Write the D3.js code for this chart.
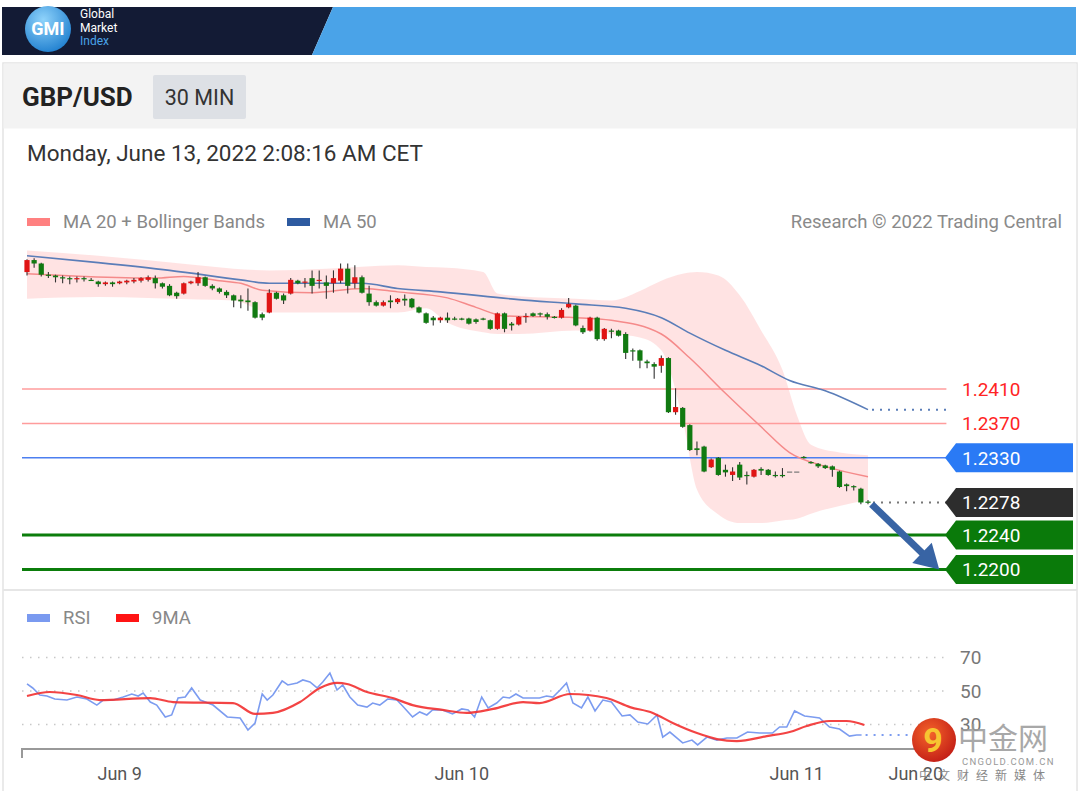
<!DOCTYPE html>
<html><head><meta charset="utf-8">
<script src="https://cdn.jsdelivr.net/npm/d3@7"></script>
<style>body{margin:0;background:#fff;}svg{display:block;font-family:Roboto,"Noto Sans",sans-serif;}</style>
</head><body><svg id="c" width="1080" height="791"></svg>
<script>
// ---------- DATA ----------
const opens=[1.2546,1.2560,1.2556,1.2543,1.2542,1.2540,1.2539,1.2538,1.2539,1.2537,1.2535,1.2532,1.2534,1.2533,1.2534,1.2535,1.2536,1.2537,1.2539,1.2533,1.2530,1.2522,1.2521,1.2533,1.2533,1.2540,1.2530,1.2527,1.2523,1.2519,1.2514,1.2513,1.2511,1.2497,1.2499,1.2522,1.2519,1.2521,1.2536,1.2534,1.2539,1.2536,1.2534,1.2533,1.2536,1.2550,1.2533,1.2540,1.2521,1.2511,1.2507,1.2513,1.2511,1.2515,1.2515,1.2505,1.2498,1.2493,1.2490,1.2493,1.2492,1.2492,1.2492,1.2491,1.2492,1.2490,1.2480,1.2498,1.2486,1.2485,1.2494,1.2498,1.2498,1.2497,1.2494,1.2493,1.2505,1.2507,1.2481,1.2478,1.2493,1.2468,1.2478,1.2478,1.2474,1.2455,1.2455,1.2442,1.2439,1.2437,1.2446,1.2383,1.2388,1.2368,1.2341,1.2343,1.2319,1.2330,1.2316,1.2310,1.2322,1.2310,1.2308,1.2317,1.2316,1.2310,1.2310,1.2314,1.2314,1.2331,1.2325,1.2323,1.2321,1.2320,1.2314,1.2299,1.2297,1.2294,1.2279];
const highs=[1.2561,1.2562,1.2557,1.2546,1.2543,1.2542,1.2541,1.2541,1.2541,1.2539,1.2536,1.2535,1.2535,1.2536,1.2537,1.2539,1.2540,1.2542,1.2542,1.2534,1.2532,1.2523,1.2534,1.2536,1.2546,1.2541,1.2532,1.2528,1.2525,1.2520,1.2519,1.2527,1.2512,1.2499,1.2526,1.2523,1.2521,1.2539,1.2537,1.2539,1.2548,1.2548,1.2542,1.2548,1.2556,1.2556,1.2554,1.2542,1.2530,1.2513,1.2513,1.2519,1.2516,1.2520,1.2516,1.2506,1.2499,1.2495,1.2494,1.2499,1.2494,1.2493,1.2493,1.2492,1.2493,1.2491,1.2499,1.2499,1.2488,1.2495,1.2498,1.2499,1.2499,1.2499,1.2495,1.2504,1.2516,1.2508,1.2484,1.2494,1.2494,1.2481,1.2480,1.2479,1.2476,1.2457,1.2456,1.2444,1.2441,1.2449,1.2447,1.2411,1.2389,1.2369,1.2349,1.2344,1.2329,1.2331,1.2322,1.2319,1.2325,1.2314,1.2317,1.2319,1.2317,1.2314,1.2318,1.2314,1.2314,1.2332,1.2326,1.2324,1.2322,1.2321,1.2315,1.2300,1.2298,1.2295,1.2281];
const lows=[1.2542,1.2551,1.2541,1.2539,1.2534,1.2533,1.2532,1.2534,1.2535,1.2536,1.2529,1.2530,1.2529,1.2532,1.2532,1.2533,1.2534,1.2535,1.2527,1.2527,1.2518,1.2515,1.2520,1.2532,1.2530,1.2529,1.2525,1.2521,1.2516,1.2505,1.2504,1.2501,1.2492,1.2490,1.2498,1.2514,1.2509,1.2520,1.2532,1.2528,1.2521,1.2527,1.2515,1.2522,1.2533,1.2521,1.2527,1.2521,1.2507,1.2506,1.2506,1.2504,1.2509,1.2507,1.2504,1.2498,1.2486,1.2484,1.2487,1.2487,1.2490,1.2490,1.2485,1.2486,1.2490,1.2479,1.2479,1.2476,1.2478,1.2484,1.2487,1.2494,1.2494,1.2491,1.2492,1.2492,1.2504,1.2483,1.2474,1.2477,1.2466,1.2466,1.2469,1.2471,1.2445,1.2443,1.2434,1.2434,1.2422,1.2429,1.2382,1.2380,1.2365,1.2338,1.2333,1.2313,1.2318,1.2309,1.2308,1.2303,1.2304,1.2299,1.2307,1.2310,1.2309,1.2307,1.2307,1.2314,1.2314,1.2329,1.2323,1.2318,1.2317,1.2308,1.2295,1.2291,1.2292,1.2276,1.2276];
const closes=[1.2560,1.2556,1.2543,1.2542,1.2540,1.2539,1.2538,1.2539,1.2538,1.2536,1.2532,1.2534,1.2532,1.2535,1.2536,1.2537,1.2539,1.2540,1.2533,1.2529,1.2519,1.2518,1.2533,1.2535,1.2540,1.2530,1.2527,1.2523,1.2519,1.2513,1.2512,1.2511,1.2493,1.2493,1.2522,1.2515,1.2513,1.2537,1.2533,1.2535,1.2530,1.2537,1.2530,1.2539,1.2550,1.2530,1.2540,1.2522,1.2511,1.2507,1.2511,1.2511,1.2515,1.2513,1.2505,1.2499,1.2487,1.2490,1.2493,1.2490,1.2491,1.2491,1.2486,1.2488,1.2491,1.2480,1.2498,1.2480,1.2484,1.2494,1.2495,1.2495,1.2497,1.2494,1.2493,1.2502,1.2509,1.2484,1.2476,1.2493,1.2468,1.2480,1.2477,1.2472,1.2452,1.2454,1.2443,1.2440,1.2436,1.2446,1.2383,1.2389,1.2366,1.2339,1.2339,1.2314,1.2328,1.2310,1.2313,1.2314,1.2307,1.2309,1.2316,1.2315,1.2310,1.2309,1.2309,1.2314,1.2314,1.2330,1.2324,1.2320,1.2318,1.2316,1.2296,1.2297,1.2296,1.2278,1.2278];

const ma20Idx=[0,8,18,22,27,30,33,40,47,52,59,63,67,77,82,89,93,98,103,107,112,118];
const ma20Val=[1.2544,1.2541,1.2539,1.2541,1.2536,1.2533,1.2525,1.2522,1.2527,1.2523,1.2516,1.2505,1.2495,1.2493,1.2490,1.2474,1.2446,1.2405,1.2366,1.2336,1.2320,1.2308];
const ma50Idx=[0,10,20,30,34,47,52,58,69,77,84,89,93,98,103,107,112,118];
const ma50Val=[1.2565,1.2557,1.2548,1.2537,1.2533,1.2533,1.2527,1.2523,1.2514,1.2509,1.2504,1.2493,1.2475,1.2455,1.2437,1.2420,1.2408,1.2386];
const bbIdx=[0,10,24,29,34,42,52,56,59,64,66,69,77,82,86,89,92,94,97,100,103,106,108,110,114,118];
const bbUpper=[1.2571,1.2565,1.2554,1.2550,1.2548,1.2550,1.2554,1.2552,1.2551,1.2546,1.2521,1.2518,1.2515,1.2513,1.2524,1.2536,1.2544,1.2546,1.2542,1.2519,1.2478,1.2432,1.2380,1.2345,1.2336,1.2333];
const bbLower=[1.2515,1.2517,1.2514,1.2513,1.2499,1.2499,1.2499,1.2504,1.2487,1.2476,1.2474,1.2474,1.2478,1.2474,1.2470,1.2455,1.2374,1.2293,1.2264,1.2254,1.2254,1.2257,1.2259,1.2265,1.2274,1.2281];

const resistances=[1.2410,1.2370];
const pivot=[1.2330];
const supports=[1.2240,1.2200];
const lastPrice=1.2278;
const arrowFrom=[118.5,1.2276], arrowTo=[128,1.2200];

const rsiT=[0,0.8,1.8,2.8,3.9,5.6,7.0,8.4,9.8,10.7,12.1,13.5,14.7,15.6,16.3,17.3,18.2,19.4,20.3,21.2,22.2,23.1,24.3,26.1,28.1,29.9,31.0,32.0,33.0,33.7,34.5,35.8,36.6,37.9,38.7,39.7,40.7,41.5,42.5,43.5,44.3,45.3,46.4,47.7,48.5,49.5,50.6,51.9,52.7,54.1,55.1,56.1,56.9,58.3,59.7,61.0,61.9,62.8,63.8,64.7,65.9,66.8,67.7,68.6,69.6,71.9,72.9,73.8,74.8,75.7,76.6,77.8,78.7,79.7,80.8,82.0,83.5,84.6,85.7,87.1,88.4,89.2,90.2,92.0,93.3,94.1,95.4,96.8,98.2,99.6,101.1,102.8,104.6,105.6,106.6,107.7,109.1,110.2,111.2,112.6,114.0,115.4,116.4,117.1];
const rsiV=[54.2,51.8,47.6,47.0,45.2,44.6,46.4,45.2,41.6,44.6,44.6,46.4,48.2,47.0,48.8,43.4,41.6,34.5,35.7,45.8,46.4,51.8,44.6,41.6,34.5,33.9,26.7,30.9,48.2,44.6,47.6,56.0,53.6,54.8,56.6,55.4,51.8,55.4,60.7,50.6,53.6,46.4,41.6,40.4,42.8,41.6,45.2,44.6,41.0,34.5,37.5,35.7,38.7,38.7,36.3,39.3,38.7,34.5,46.4,39.9,42.8,46.4,45.8,48.2,45.8,45.8,47.0,46.4,50.6,54.8,42.8,39.9,46.4,38.1,44.6,43.4,35.1,35.7,31.5,30.3,35.7,22.5,25.5,19.0,20.7,17.8,22.5,20.7,21.9,21.9,25.5,24.9,24.9,28.5,28.5,38.1,35.1,34.5,33.9,28.5,27.3,23.1,23.7,23.7];
const maT=[0,3.2,7.0,10.2,17.3,20.5,28.9,32.0,34.5,38.3,41.1,43.5,44.9,47.7,51.3,54.1,58.3,61.7,65.4,69.6,71.9,76.2,81.3,84.6,87.8,90.6,94.0,96.8,99.6,103.8,107.0,109.4,112.6,115.0,117.5];
const maV=[47.0,49.4,47.6,44.6,45.8,43.4,42.8,36.3,36.9,43.4,51.8,54.8,54.2,49.4,45.8,41.6,38.7,36.9,39.3,43.4,42.8,48.2,45.8,40.4,36.9,30.9,24.9,21.3,20.1,23.1,25.5,29.1,32.1,32.1,29.7];
const rsiLevels=[70,50,30];
const tickT=[13,61,108,124.7];
const tickLabels=["Jun 9","Jun 10","Jun 11","Jun 20"];

// ---------- SCALES ----------
const svg=d3.select('#c');
const x=d3.scaleLinear().domain([0,118]).range([27,868]);
const y=d3.scaleLinear().domain([1.2200,1.2410]).range([569.5,389]);
const yr=d3.scaleLinear().domain([30,70]).range([724.5,657.5]);
const xEnd=x(129);

// ---------- HEADER ----------
svg.append('polygon').attr('points','2,7 333,7 312,55 2,55').attr('fill','#131b35');
svg.append('polygon').attr('points','333,7 1076,7 1076,55 312,55').attr('fill','#4aa3e8');
const defs=svg.append('defs');
const lg=defs.append('radialGradient').attr('id','gmi').attr('cx','40%').attr('cy','30%').attr('r','75%');
lg.append('stop').attr('offset','0%').attr('stop-color','#8fd3fb');
lg.append('stop').attr('offset','100%').attr('stop-color','#1f7fcf');
svg.append('circle').attr('cx',48).attr('cy',29).attr('r',23).attr('fill','url(#gmi)');
svg.append('text').attr('x',48).attr('y',35).attr('text-anchor','middle').attr('fill','#fff').attr('font-weight','bold').attr('font-size',18).text('GMI');
[['Global',18,'#fff'],['Market',32,'#fff'],['Index',45,'#4aa3e8']].forEach(t=>svg.append('text').attr('x',80).attr('y',t[1]).attr('font-size',12).attr('fill',t[2]).text(t[0]));

// ---------- CARD ----------
svg.append('rect').attr('x',3).attr('y',63).attr('width',1074).attr('height',730).attr('fill','#fff').attr('stroke','#e4e4e4').attr('stroke-width',1.5);
svg.append('rect').attr('x',3.5).attr('y',63.5).attr('width',1073).attr('height',65).attr('fill','#f3f3f3');
svg.append('text').attr('x',22).attr('y',106).attr('font-size',26).attr('font-weight','bold').attr('fill','#222').text('GBP/USD');
svg.append('rect').attr('x',153).attr('y',75).attr('width',93).attr('height',44).attr('fill','#dde0e5').attr('rx',2);
svg.append('text').attr('x',199.5).attr('y',105).attr('text-anchor','middle').attr('font-size',21.5).attr('fill','#333').text('30 MIN');
svg.append('text').attr('x',27).attr('y',161).attr('font-size',22.5).attr('fill','#333').text('Monday, June 13, 2022 2:08:16 AM CET');

// legend
svg.append('rect').attr('x',27).attr('y',218).attr('width',23).attr('height',8).attr('fill','#ff8080');
svg.append('text').attr('x',63).attr('y',228).attr('font-size',18.5).attr('fill','#888').text('MA 20 + Bollinger Bands');
svg.append('rect').attr('x',287).attr('y',218).attr('width',23).attr('height',8).attr('fill','#2d5aa0');
svg.append('text').attr('x',323).attr('y',228).attr('font-size',18.5).attr('fill','#888').text('MA 50');
svg.append('text').attr('x',1062).attr('y',228).attr('text-anchor','end').attr('font-size',18.5).attr('fill','#8a8a8a').text('Research © 2022 Trading Central');

// ---------- MAIN CHART ----------
const g=svg.append('g');
const bb=bbIdx.map((t,i)=>({t,u:bbUpper[i],l:bbLower[i]}));
g.append('path').datum(bb).attr('fill','#ffdcdc').attr('opacity',0.8)
 .attr('d',d3.area().x(d=>x(d.t)).y0(d=>y(d.l)).y1(d=>y(d.u)).curve(d3.curveMonotoneX));

resistances.forEach(v=>{
  g.append('line').attr('x1',22).attr('x2',xEnd).attr('y1',y(v)).attr('y2',y(v)).attr('stroke','#ff9c9c').attr('stroke-width',1.5);
  g.append('text').attr('x',962).attr('y',y(v)).attr('dy','0.36em').attr('font-size',19).attr('fill','#ff2424').text(v.toFixed(4));
});
pivot.forEach(v=>{
  g.append('line').attr('x1',22).attr('x2',xEnd).attr('y1',y(v)).attr('y2',y(v)).attr('stroke','#4d7ff0').attr('stroke-width',1.5);
});
supports.forEach(v=>{
  g.append('line').attr('x1',22).attr('x2',xEnd).attr('y1',y(v)).attr('y2',y(v)).attr('stroke','#0b7d0b').attr('stroke-width',3);
});

const ma50=ma50Idx.map((t,i)=>({t,v:ma50Val[i]}));
const ma20=ma20Idx.map((t,i)=>({t,v:ma20Val[i]}));
const ln=d3.line().x(d=>x(d.t)).y(d=>y(d.v)).curve(d3.curveMonotoneX);
g.append('path').datum(ma20).attr('d',ln).attr('fill','none').attr('stroke','#f58a8a').attr('stroke-width',1.5);
g.append('path').datum(ma50).attr('d',ln).attr('fill','none').attr('stroke','#5a7db8').attr('stroke-width',1.6);
const lastMa50=ma50[ma50.length-1];
g.append('line').attr('x1',x(lastMa50.t)+4).attr('x2',xEnd).attr('y1',y(lastMa50.v)).attr('y2',y(lastMa50.v))
 .attr('stroke','#5a7db8').attr('stroke-width',2).attr('stroke-dasharray','2,6');

const candles=d3.range(opens.length).map(i=>({i,o:opens[i],h:highs[i],l:lows[i],c:closes[i]}));
const col=d=>d.c>d.o?'#e01414':(d.c<d.o?'#117a11':'#777');
g.selectAll('line.wick').data(candles).join('line').attr('class','wick')
 .attr('x1',d=>x(d.i)).attr('x2',d=>x(d.i)).attr('y1',d=>y(d.h)).attr('y2',d=>y(d.l))
 .attr('stroke',d=>d.h===d.l?'none':'#333').attr('stroke-width',1.1);
g.selectAll('rect.body').data(candles).join('rect').attr('class','body')
 .attr('x',d=>x(d.i)-2.6).attr('width',5.2)
 .attr('y',d=>y(Math.max(d.o,d.c))).attr('height',d=>Math.max(1.2,Math.abs(y(d.o)-y(d.c))))
 .attr('fill',col);

// last price dotted
const lastC=candles[candles.length-1];
g.append('line').attr('x1',x(lastC.i)+5).attr('x2',xEnd).attr('y1',y(lastPrice)).attr('y2',y(lastPrice))
 .attr('stroke','#777').attr('stroke-width',2).attr('stroke-dasharray','2,6');

// label boxes
function box(v,fill){
  const yy=y(v),h=14.5,x0=945,x1=1073;
  g.append('polygon').attr('points',`${x0},${yy} ${x0+11},${yy-h} ${x1},${yy-h} ${x1},${yy+h} ${x0+11},${yy+h}`).attr('fill',fill);
  g.append('text').attr('x',962).attr('y',yy).attr('dy','0.36em').attr('font-size',19).attr('fill','#fff').text(v.toFixed(4));
}
pivot.forEach(v=>box(v,'#2a7af5'));
box(lastPrice,'#2d2d2d');
supports.forEach(v=>box(v,'#0a7a0a'));

// arrow
{
  const x1=x(arrowFrom[0]),y1=y(arrowFrom[1]),x2=x(arrowTo[0]),y2=y(arrowTo[1]);
  const dx=x2-x1,dy=y2-y1,L=Math.hypot(dx,dy),ux=dx/L,uy=dy/L,px=-uy,py=ux;
  const hl=24,hw=14,bx=x2-ux*hl,by=y2-uy*hl;
  g.append('line').attr('x1',x1).attr('y1',y1).attr('x2',bx+ux*2).attr('y2',by+uy*2).attr('stroke','#3864a4').attr('stroke-width',7);
  g.append('polygon').attr('points',`${x2},${y2} ${bx+px*hw},${by+py*hw} ${bx-px*hw},${by-py*hw}`).attr('fill','#3864a4');
}

// separator
svg.append('line').attr('x1',3).attr('x2',1077).attr('y1',590).attr('y2',590).attr('stroke','#e6e6e6').attr('stroke-width',2);

// ---------- RSI PANEL ----------
svg.append('rect').attr('x',27).attr('y',614).attr('width',23).attr('height',8).attr('fill','#7a9af0');
svg.append('text').attr('x',63).attr('y',624).attr('font-size',18.5).attr('fill','#888').text('RSI');
svg.append('rect').attr('x',116).attr('y',614).attr('width',23).attr('height',8).attr('fill','#ff1414');
svg.append('text').attr('x',152).attr('y',624).attr('font-size',18.5).attr('fill','#888').text('9MA');

rsiLevels.forEach(v=>{
  svg.append('line').attr('x1',22).attr('x2',xEnd).attr('y1',yr(v)).attr('y2',yr(v)).attr('stroke','#c8c8c8').attr('stroke-width',1.5).attr('stroke-dasharray','1.5,6.5');
  svg.append('text').attr('x',960).attr('y',yr(v)).attr('dy','0.36em').attr('font-size',19).attr('fill','#777').text(v);
});
const rsi=rsiT.map((t,i)=>({t,v:rsiV[i]}));
const ma9=maT.map((t,i)=>({t,v:maV[i]}));
const lr=d3.line().x(d=>x(d.t)).y(d=>yr(d.v));
svg.append('path').datum(rsi).attr('d',lr).attr('fill','none').attr('stroke','#7c9cf0').attr('stroke-width',1.6);
svg.append('path').datum(ma9).attr('d',lr.curve(d3.curveMonotoneX)).attr('fill','none').attr('stroke','#f23030').attr('stroke-width',2.2).attr('opacity',0.9);
const lr0=rsi[rsi.length-1];
svg.append('line').attr('x1',x(lr0.t)+4).attr('x2',xEnd).attr('y1',yr(lr0.v)).attr('y2',yr(lr0.v)).attr('stroke','#7c9cf0').attr('stroke-width',2).attr('stroke-dasharray','2,6');

// x axis
svg.append('path').attr('d',`M22,758V749H${xEnd}`).attr('fill','none').attr('stroke','#999').attr('stroke-width',2);
tickT.forEach((t,i)=>svg.append('text').attr('x',x(t)).attr('y',780).attr('text-anchor','middle').attr('font-size',18).attr('fill','#555').text(tickLabels[i]));

// ---------- WATERMARK ----------
const wg=defs.append('radialGradient').attr('id','wm').attr('cx','40%').attr('cy','35%').attr('r','70%');
wg.append('stop').attr('offset','0%').attr('stop-color','#f4642a');
wg.append('stop').attr('offset','100%').attr('stop-color','#c21d16');
svg.append('circle').attr('cx',934).attr('cy',740).attr('r',22).attr('fill','url(#wm)');
svg.append('text').attr('x',933).attr('y',752).attr('text-anchor','middle').attr('font-size',34).attr('font-weight','bold').attr('fill','#f7c531').text('9');
svg.append('text').attr('x',958).attr('y',749).attr('font-size',30).attr('font-family','"Noto Sans CJK SC"').attr('fill','#9a9a9a').attr('opacity',0.85).text('中金网');
svg.append('text').attr('x',962).attr('y',765).attr('font-size',9.5).attr('letter-spacing',1.3).attr('fill','#999').text('CNGOLD.COM.CN');
svg.append('text').attr('x',919).attr('y',780).attr('font-size',12).attr('letter-spacing',7).attr('font-family','"Noto Sans CJK SC"').attr('fill','#888').text('中文财经新媒体');
</script></body></html>
